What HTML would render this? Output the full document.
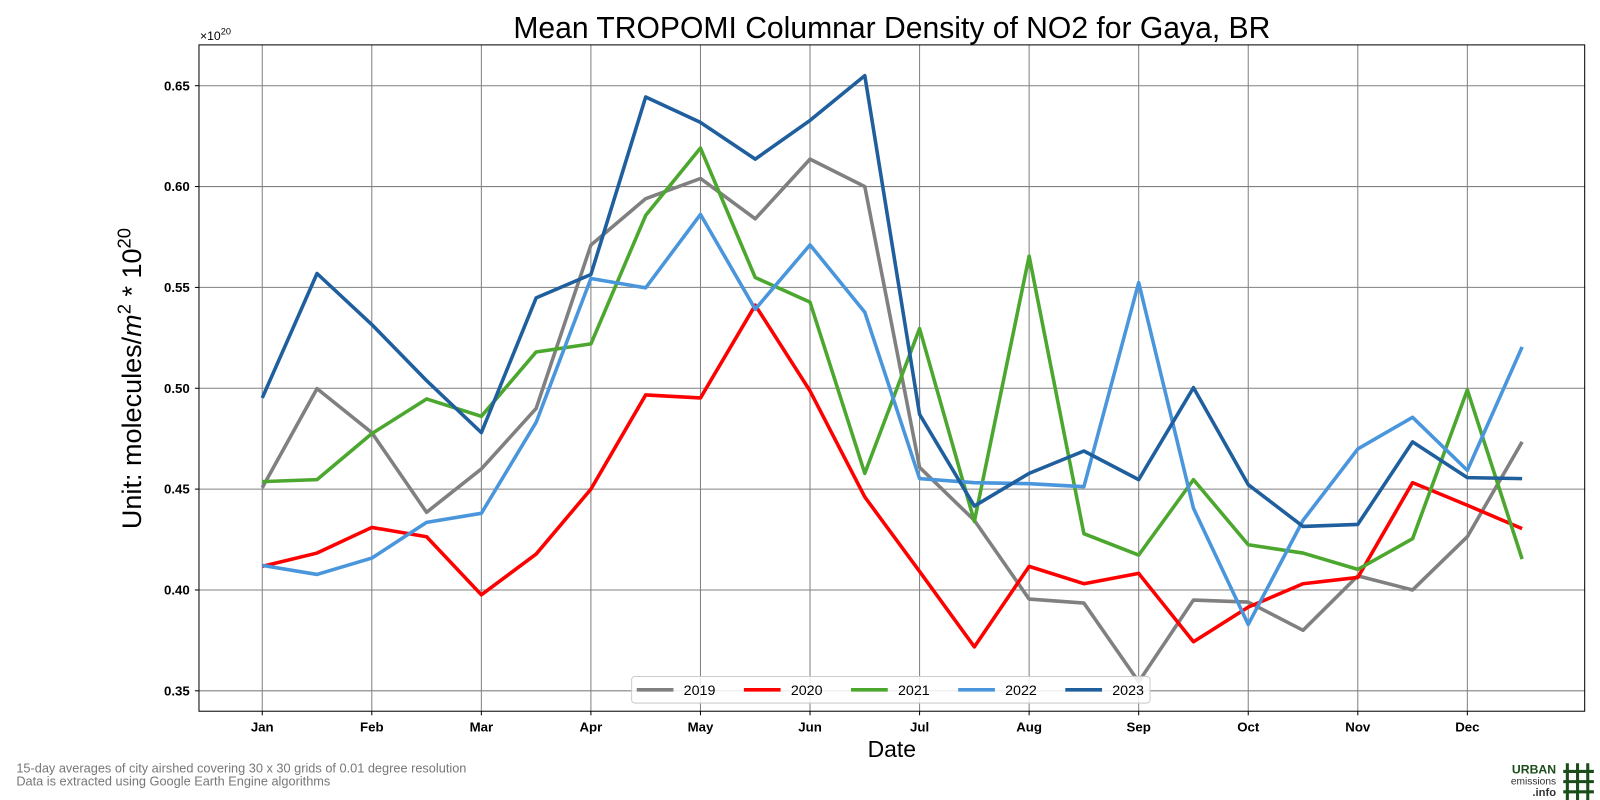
<!DOCTYPE html>
<html><head><meta charset="utf-8"><style>
body{margin:0;background:#fff;}
svg{font-family:"Liberation Sans","DejaVu Sans",sans-serif;display:block;}
</style></head><body>
<svg id="chart" width="1600" height="800">
<g transform="scale(1.020408)">
<text x="874" y="37" font-size="29.5" text-anchor="middle">Mean TROPOMI Columnar Density of NO2 for Gaya, BR</text>
<text x="196" y="39" font-size="12">×10<tspan font-size="9" dy="-5">20</tspan></text>
<text transform="translate(138,371) rotate(-90)" font-size="26.5" text-anchor="middle">Unit: molecules/<tspan font-style="italic">m</tspan><tspan font-size="18" dy="-10">2</tspan><tspan dy="10"> * 10</tspan><tspan font-size="18" dy="-10">20</tspan></text>
<text x="874" y="742" font-size="22.5" text-anchor="middle">Date</text>
<text x="16" y="757" font-size="12.5" fill="#777">15-day averages of city airshed covering 30 x 30 grids of 0.01 degree resolution</text>
<text x="16" y="770" font-size="12.5" fill="#777">Data is extracted using Google Earth Engine algorithms</text>
<g>
<text x="1525" y="758" font-size="12" font-weight="bold" fill="#1a4d1a" text-anchor="end">URBAN</text>
<text x="1525" y="769" font-size="10" fill="#333" text-anchor="end">emissions</text>
<text x="1525" y="780" font-size="11" font-weight="bold" fill="#333" text-anchor="end">.info</text>
<path d="M1536 748v36M1546 748v36M1556 748v36M1532 756h30M1532 766h30M1532 776h30" stroke="#1a4d1a" stroke-width="3"/>
</g>
<g id="grid"></g>
<g id="series"></g>
<rect x="195" y="44" width="1358" height="653" fill="none" stroke="#000" stroke-width="1"/>
<g id="legend"></g>
</g>
</svg>
<script>
const months=["Jan","Feb","Mar","Apr","May","Jun","Jul","Aug","Sep","Oct","Nov","Dec"];
const yTicks=[0.35,0.40,0.45,0.50,0.55,0.60,0.65];
const years=["2019","2020","2021","2022","2023"];
const colors=["#808080","#ff0000","#4ca72e","#4a96dc","#1f5f9e"];
const s2019=[0.4507,0.4998,0.478,0.4385,0.460,0.490,0.571,0.594,0.604,0.584,0.6136,0.600,0.4608,0.4345,0.3955,0.3935,0.3545,0.395,0.394,0.380,0.407,0.400,0.4264,0.4734];
const s2020=[0.4117,0.4183,0.431,0.4264,0.3976,0.4178,0.450,0.4967,0.4952,0.5412,0.4987,0.4461,0.4092,0.3718,0.4117,0.4031,0.4082,0.3743,0.3915,0.4031,0.4062,0.4532,0.442,0.4304];
const s2021=[0.4537,0.4547,0.4775,0.4947,0.4861,0.518,0.522,0.5857,0.6191,0.5549,0.5427,0.4578,0.5296,0.434,0.5655,0.4279,0.4173,0.4547,0.4224,0.4183,0.4102,0.4254,0.4992,0.4153];
const s2022=[0.4122,0.4077,0.4158,0.4335,0.438,0.4831,0.5544,0.5498,0.5862,0.5392,0.5711,0.5377,0.4552,0.4532,0.4527,0.4512,0.5524,0.4405,0.3829,0.4345,0.4699,0.4856,0.4593,0.5205];
const s2023=[0.4952,0.5569,0.5316,0.5038,0.478,0.5448,0.5564,0.6444,0.6318,0.6136,0.6328,0.655,0.4871,0.4416,0.4578,0.4689,0.4547,0.5003,0.4522,0.4315,0.4325,0.4734,0.4557,0.4552];
const allSeries=[s2019,s2020,s2021,s2022,s2023];
const NS="http://www.w3.org/2000/svg";
function xPos(i){return 257+i*(1181/22);}
function yPos(v){return 677-(v-0.35)*(593/0.30);}
function mk(tag,attrs,parent){const e=document.createElementNS(NS,tag);for(const k in attrs)e.setAttribute(k,attrs[k]);parent.appendChild(e);return e;}
const grid=document.getElementById('grid');
months.forEach((m,k)=>{
  const x=xPos(k*2);
  const l=mk('line',{x1:x,x2:x,y1:44,y2:697,stroke:'#808080','stroke-width':1},grid);
  
  
  mk('line',{x1:x,x2:x,y1:697,y2:701,stroke:'#000'},grid);
  const t=mk('text',{x:x,y:717,'font-size':13,'font-weight':'bold','text-anchor':'middle'},grid);
  t.textContent=m;
  
  
});
yTicks.forEach(v=>{
  const y=yPos(v);
  const l=mk('line',{x1:195,x2:1553,y1:y,y2:y,stroke:'#808080','stroke-width':1},grid);
  
  
  mk('line',{x1:191,x2:195,y1:y,y2:y,stroke:'#000'},grid);
  const t=mk('text',{x:186,y:y+4.5,'font-size':13,'font-weight':'bold','text-anchor':'end'},grid);
  t.textContent=v.toFixed(2);
  
  
});
const sg=document.getElementById('series');
allSeries.forEach((s,j)=>{
  const p=mk('polyline',{points:s.map((v,i)=>xPos(i)+','+yPos(v)).join(' '),fill:'none',stroke:colors[j],'stroke-width':3.5,'stroke-linejoin':'round'},sg);
  
  
});
const lg=document.getElementById('legend');
const box=mk('rect',{x:619,y:663,width:508,height:26,fill:'#fff','fill-opacity':0.85,stroke:'#ccc',rx:3},lg);


years.forEach((yr,j)=>{
  const x0=624+j*105;
  const g=mk('g',{},lg);
  
  
  mk('line',{x1:x0,x2:x0+36,y1:676,y2:676,stroke:colors[j],'stroke-width':3.5},g);
  const t=mk('text',{x:x0+46,y:681,'font-size':14},g);
  t.textContent=yr;
});
</script>
</body></html>
